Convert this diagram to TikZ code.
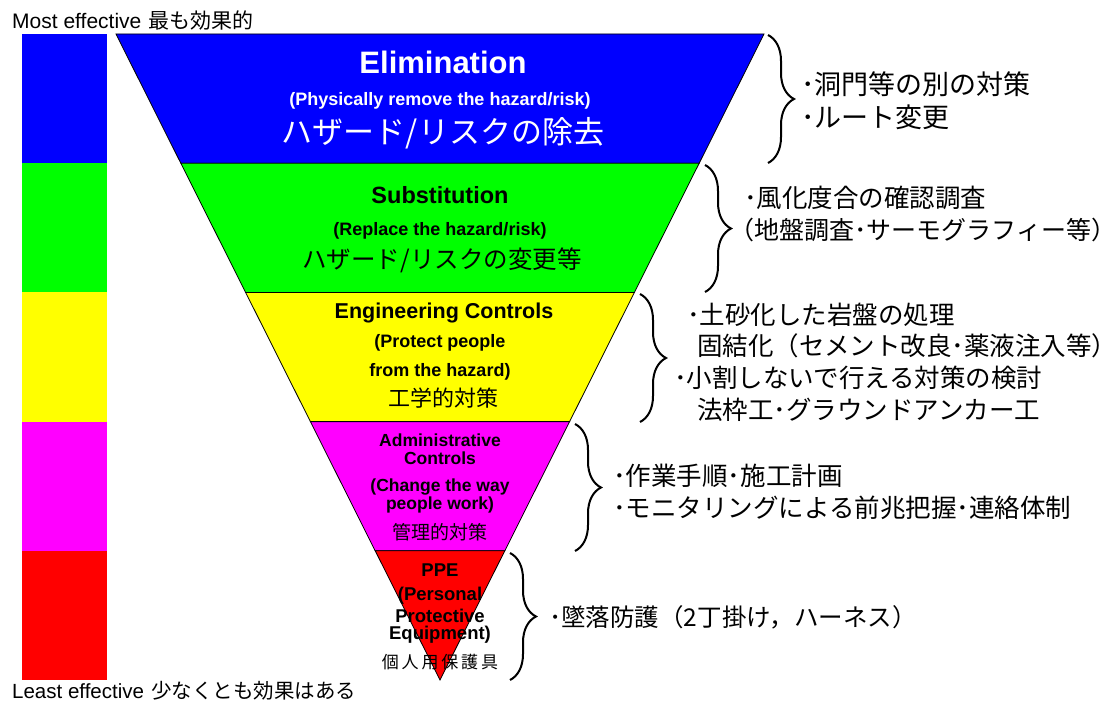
\documentclass[tikz,border=0pt]{standalone}
\usepackage{fontspec}
\setmainfont{Liberation Sans}
\newfontfamily\jp{Noto Sans CJK JP}
\usetikzlibrary{decorations.pathreplacing}
\newcommand\fsz[1]{\fontsize{#1}{#1}\selectfont}
\definecolor{cblue}{RGB}{0,0,255}
\definecolor{cgreen}{RGB}{0,255,0}
\definecolor{cyellow}{RGB}{255,255,0}
\definecolor{cmag}{RGB}{255,0,255}
\definecolor{cred}{RGB}{255,0,0}
\tikzset{
  band/.style={draw=black, line width=0.8pt, line join=miter},
  brc/.style={decorate, decoration={brace, amplitude=26pt}, line width=2pt},
  tx/.style={inner sep=0pt, align=center},
  en/.style={tx, font=\bfseries\fsz{#1}},
  ja/.style={tx, font=\jp\fsz{#1}},
  rt/.style={anchor=west, inner sep=0pt, font=\jp\fsz{#1}},
  rt/.default=25.5,
  lbl/.style={anchor=base west, inner sep=0pt, font=\fsz{#1}},
}
\begin{document}
\begin{tikzpicture}[x=1pt,y=-1pt]
\useasboundingbox (0,0) rectangle (1118,706);
\fill[white] (0,0) rectangle (1118,706);
% left bar
\fill[cblue]   (22,34)    rectangle (107,163.2);
\fill[cgreen]  (22,163.2) rectangle (107,292.4);
\fill[cyellow] (22,292.4) rectangle (107,421.6);
\fill[cmag]    (22,421.6) rectangle (107,550.8);
\fill[cred]    (22,550.8) rectangle (107,680);
% triangle bands
\filldraw[band, fill=cblue]   (116,34) -- (764,34) -- (699.2,163.2) -- (180.8,163.2) -- cycle;
\filldraw[band, fill=cgreen]  (180.8,163.2) -- (699.2,163.2) -- (634.4,292.4) -- (245.6,292.4) -- cycle;
\filldraw[band, fill=cyellow] (245.6,292.4) -- (634.4,292.4) -- (569.6,421.6) -- (310.4,421.6) -- cycle;
\filldraw[band, fill=cmag]    (310.4,421.6) -- (569.6,421.6) -- (504.8,550.8) -- (375.2,550.8) -- cycle;
\filldraw[band, fill=cred]    (375.2,550.8) -- (504.8,550.8) -- (440,680) -- cycle;
% labels
\node[lbl=21] (most) at (12,29) {Most effective\hspace{7pt}{\jp 最も効果的}};
\node[lbl=20.5] (least) at (12,698) {Least effective\hspace{7pt}{\jp 少なくとも効果はある}};
% band texts
\node[en=31, text=white] (elim) at (443,62) {Elimination};
\node[en=18, text=white] (elim2) at (440,101) {(Physically remove the hazard/risk)};
\node[ja=31, text=white] (elim3) at (443,133) {ハザード/リスクの除去};
\node[en=23.5] (sub) at (440,195) {Substitution};
\node[en=18] (sub2) at (440,231) {(Replace the hazard/risk)};
\node[ja=24.5] (sub3) at (442,260) {ハザード/リスクの変更等};
\node[en=21.5] (eng) at (444,313) {Engineering Controls};
\node[en=18] (eng2) at (440,343) {(Protect people};
\node[en=18] (eng3) at (440,372) {from the hazard)};
\node[ja=22] (eng4) at (443,398) {工学的対策};
\node[en=17.5] (adm) at (440,440) {Administrative};
\node[en=17.5] (adm2) at (440,458) {Controls};
\node[en=17.5] (adm3) at (440,487) {(Change the way};
\node[en=17.5] (adm4) at (440,505) {people work)};
\node[ja=19] (adm5) at (440,532) {管理的対策};
\node[en=18.5] (ppe) at (440,570) {PPE};
\node[en=18.5] (ppe2) at (440,596) {(Personal};
\node[en=18.5] (ppe3) at (440,616) {Protective};
\node[en=18.5] (ppe4) at (440,635) {Equipment)};
\node[ja=17] (ppe5) at (440,662) {個\,人\,用\,保\,護\,具};
% braces
\draw[brc] (768,35) -- (768,163);
\draw[brc] (705,165) -- (705,292);
\draw[brc] (640,294) -- (640,422);
\draw[brc] (575,424) -- (575,551);
\draw[brc] (510,553) -- (510,680);
% right texts
\node[rt=27] (r1a) at (801,84) {･洞門等の別の対策};
\node[rt=27] (r1b) at (801,117) {･ルート変更};
\node[rt] (r2a) at (744,198) {･風化度合の確認調査};
\node[rt=25] (r2b) at (729,230) {（地盤調査･サーモグラフィー等）};
\node[rt] (r3a) at (687,315) {･土砂化した岩盤の処理};
\node[rt] (r3b) at (697,346) {固結化（セメント改良･薬液注入等）};
\node[rt] (r3c) at (674,378) {･小割しないで行える対策の検討};
\node[rt] (r3d) at (697,410) {法枠工･グラウンドアンカー工};
\node[rt] (r4a) at (613,476) {･作業手順･施工計画};
\node[rt] (r4b) at (613,508) {･モニタリングによる前兆把握･連絡体制};
\node[rt=24.5] (r5a) at (549,617) {･墜落防護（2丁掛け，ハーネス）};
\end{tikzpicture}
\end{document}
